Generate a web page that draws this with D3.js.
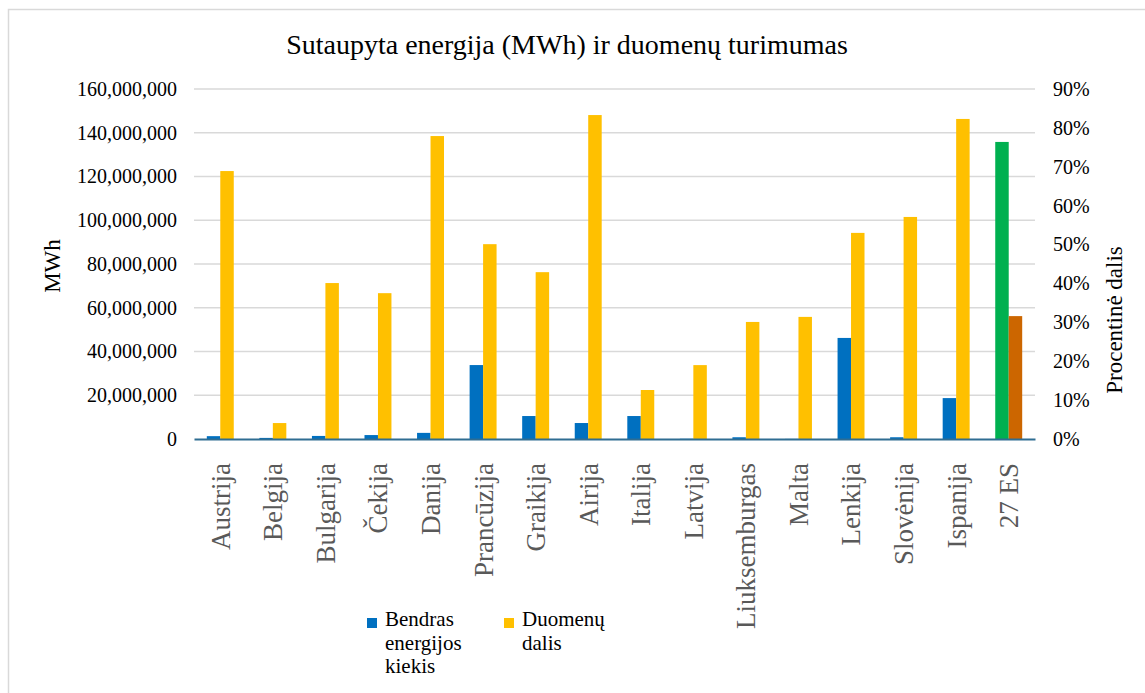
<!DOCTYPE html>
<html>
<head>
<meta charset="utf-8">
<script src="https://cdn.jsdelivr.net/npm/d3@7"></script>
<style>
    body { margin: 0; background: #fff; }
    svg, svg text, svg tspan { font-family: "Liberation Serif", "Times New Roman", serif; }
</style>
</head>
<body>
<div id="chart"></div>
<script>
    var categories = ["Austrija", "Belgija", "Bulgarija", "Čekija", "Danija", "Prancūzija",
        "Graikija", "Airija", "Italija", "Latvija", "Liuksemburgas", "Malta",
        "Lenkija", "Slovėnija", "Ispanija", "27 ES"];

    // Bendras energijos kiekis (MWh)
    var energyMWh = [1300000, 500000, 1400000, 1800000, 2800000, 33800000,
        10500000, 7300000, 10500000, 100000, 800000, 50000,
        46200000, 800000, 18700000, 135800000];

    // Duomenų dalis (share)
    var dataShare = [0.689, 0.041, 0.401, 0.375, 0.779, 0.501,
        0.429, 0.833, 0.126, 0.19, 0.301, 0.314,
        0.53, 0.571, 0.823, 0.316];

    var leftTicks = [0, 20e6, 40e6, 60e6, 80e6, 100e6, 120e6, 140e6, 160e6];
    var rightTicks = [0, 0.1, 0.2, 0.3, 0.4, 0.5, 0.6, 0.7, 0.8, 0.9];

    var w = 1145,
        h = 693;

    var plotLeft = 194, plotRight = 1035, plotTop = 89, plotBottom = 439;

    var colorBlue = "#0070C0", colorYellow = "#FFC000",
        colorGreen = "#00B050", colorOrange = "#CC6600";

    var svg = d3.select("#chart")
        .append("svg")
        .attr("width", w)
        .attr("height", h)
        .attr("font-family", "'Liberation Serif', 'Times New Roman', serif");

    // chart frame
    svg.append("rect")
        .attr("x", 8.5).attr("y", 9.5)
        .attr("width", 1160).attr("height", 720)
        .attr("fill", "none")
        .attr("stroke", "#D9D9D9")
        .attr("stroke-width", 1.5);

    var x = d3.scaleBand().domain(categories).range([plotLeft, plotRight]).padding(0);
    var xs = d3.scaleBand().domain(["e", "s"]).range([0, x.bandwidth()])
        .paddingInner(0).paddingOuter(0.95);
    var yL = d3.scaleLinear().domain([0, 160e6]).range([plotBottom, plotTop]);
    var yR = d3.scaleLinear().domain([0, 0.9]).range([plotBottom, plotTop]);

    // gridlines
    svg.append("g")
        .selectAll("line")
        .data(leftTicks.slice(1))
        .enter().append("line")
        .attr("x1", plotLeft).attr("x2", plotRight)
        .attr("y1", function (d) { return yL(d); })
        .attr("y2", function (d) { return yL(d); })
        .attr("stroke", "#D9D9D9")
        .attr("stroke-width", 1.5);

    // bars
    var isEU = function (i) { return i === categories.length - 1; };

    svg.append("g")
        .selectAll("rect")
        .data(energyMWh)
        .enter().append("rect")
        .attr("x", function (d, i) { return x(categories[i]) + xs("e"); })
        .attr("y", function (d) { return yL(d); })
        .attr("width", xs.bandwidth())
        .attr("height", function (d) { return plotBottom - yL(d); })
        .attr("fill", function (d, i) { return isEU(i) ? colorGreen : colorBlue; });

    svg.append("g")
        .selectAll("rect")
        .data(dataShare)
        .enter().append("rect")
        .attr("x", function (d, i) { return x(categories[i]) + xs("s"); })
        .attr("y", function (d) { return yR(d); })
        .attr("width", xs.bandwidth())
        .attr("height", function (d) { return plotBottom - yR(d); })
        .attr("fill", function (d, i) { return isEU(i) ? colorOrange : colorYellow; });

    // left axis
    var gL = svg.append("g")
        .attr("transform", "translate(" + plotLeft + ",0)")
        .call(d3.axisLeft(yL).tickValues(leftTicks).tickSize(0).tickPadding(17)
            .tickFormat(d3.format(",")));
    gL.attr("font-family", null).attr("font-size", null);
    gL.select(".domain").remove();
    gL.selectAll("text").attr("font-size", 20).attr("fill", "#000");

    // right axis
    var gR = svg.append("g")
        .attr("transform", "translate(" + plotRight + ",0)")
        .call(d3.axisRight(yR).tickValues(rightTicks).tickSize(0).tickPadding(18)
            .tickFormat(d3.format(".0%")));
    gR.attr("font-family", null).attr("font-size", null);
    gR.select(".domain").remove();
    gR.selectAll("text").attr("font-size", 20).attr("fill", "#000");

    // bottom axis
    var gX = svg.append("g")
        .attr("transform", "translate(0," + plotBottom + ")")
        .call(d3.axisBottom(x).tickSize(0).tickPadding(0));
    gX.attr("font-family", null).attr("font-size", null);
    gX.select(".domain").attr("stroke", "#2F6D92").attr("stroke-width", 2);
    gX.selectAll("text")
        .attr("font-size", 27)
        .attr("fill", "#595959")
        .attr("text-anchor", "end")
        .attr("transform", "translate(0,24) rotate(-90)")
        .attr("x", 0).attr("y", 0).attr("dy", "0.35em");

    // title
    svg.append("text")
        .attr("x", 567).attr("y", 54)
        .attr("text-anchor", "middle")
        .attr("font-size", 28)
        .attr("fill", "#000")
        .text("Sutaupyta energija (MWh) ir duomenų turimumas");

    // axis titles
    svg.append("text")
        .attr("transform", "translate(60,266) rotate(-90)")
        .attr("text-anchor", "middle")
        .attr("font-size", 23)
        .text("MWh");

    svg.append("text")
        .attr("transform", "translate(1122,320) rotate(-90)")
        .attr("text-anchor", "middle")
        .attr("font-size", 23)
        .text("Procentinė dalis");

    // legend
    var legendItems = [
        { color: colorBlue, x: 367, lines: ["Bendras", "energijos", "kiekis"] },
        { color: colorYellow, x: 504, lines: ["Duomenų", "dalis"] }
    ];

    var lg = svg.append("g").selectAll("g")
        .data(legendItems)
        .enter().append("g")
        .attr("transform", function (d) { return "translate(" + d.x + ",618)"; });

    lg.append("rect")
        .attr("width", 10).attr("height", 10)
        .attr("fill", function (d) { return d.color; });

    lg.append("text")
        .attr("x", 18).attr("y", 8)
        .attr("font-size", 21)
        .attr("fill", "#000")
        .selectAll("tspan")
        .data(function (d) { return d.lines; })
        .enter().append("tspan")
        .attr("x", 18)
        .attr("dy", function (d, i) { return i === 0 ? 0 : 23.5; })
        .text(function (d) { return d; });
</script>
</body>
</html>
